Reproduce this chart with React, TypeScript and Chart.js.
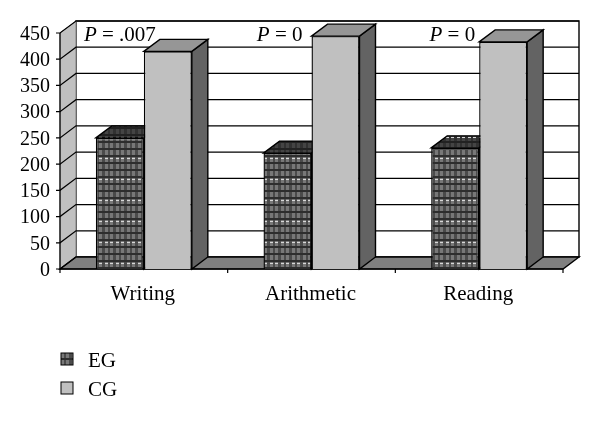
import React, { useEffect, useRef } from "react";
import { Chart, registerables } from "chart.js";

Chart.register(...registerables);

const categories = ["Writing", "Arithmetic", "Reading"];
const egValues = [250, 221, 231];
const cgValues = [415, 444, 433];
const yTicks = [0, 50, 100, 150, 200, 250, 300, 350, 400, 450];
const pLabels = ["P = .007", "P = 0", "P = 0"];
const pOffsets = [12, -9, -4];
const FONT = '"Liberation Serif", serif';
const DX = 16;
const DY = 12;

function makePattern(ctx: CanvasRenderingContext2D, top = false) {
  const c = document.createElement("canvas");
  c.width = 11;
  c.height = 21;
  const g = c.getContext("2d")!;
  g.fillStyle = top ? "#444" : "#787878";
  g.fillRect(0, 0, 11, 21);
  g.fillStyle = "rgba(30,30,30,0.5)";
  g.fillRect(3, 0, 3, 21);
  g.fillRect(9, 0, 2, 21);
  g.fillStyle = top ? "#222" : "#2e2e2e";
  for (let y = 1; y < 21; y += 7) g.fillRect(0, y, 11, 2);
  g.fillStyle = "#d8d8d8";
  g.fillRect(0, 11, 3, 1);
  g.fillRect(6, 11, 3, 1);
  return ctx.createPattern(c, "repeat")!;
}

function poly(ctx: CanvasRenderingContext2D, pts: number[][], fill: any, stroke = "#000", lw = 1.4) {
  ctx.beginPath();
  pts.forEach((p, i) => (i ? ctx.lineTo(p[0], p[1]) : ctx.moveTo(p[0], p[1])));
  ctx.closePath();
  ctx.fillStyle = fill;
  ctx.fill();
  if (stroke) {
    ctx.strokeStyle = stroke;
    ctx.lineWidth = lw;
    ctx.stroke();
  }
}

const box3d = {
  id: "box3d",
  beforeDatasetsDraw(chart: any) {
    const { ctx, chartArea: a, scales } = chart;
    const y = scales.y;
    const y0 = y.getPixelForValue(0);
    const yTop = y.getPixelForValue(450);
    ctx.save();
    poly(ctx, [[a.left + DX, yTop - DY], [a.right + DX, yTop - DY], [a.right + DX, y0 - DY], [a.left + DX, y0 - DY]], "#fff");
    poly(ctx, [[a.left, yTop], [a.left + DX, yTop - DY], [a.left + DX, y0 - DY], [a.left, y0]], "#c0c0c0", "#808080", 1);
    poly(ctx, [[a.left, y0], [a.left + DX, y0 - DY], [a.right + DX, y0 - DY], [a.right, y0]], "#808080");
    ctx.strokeStyle = "#000";
    ctx.lineWidth = 1.2;
    yTicks.forEach((t) => {
      const p = y.getPixelForValue(t);
      ctx.beginPath();
      ctx.moveTo(a.left - 4, p);
      ctx.lineTo(a.left, p);
      ctx.lineTo(a.left + DX, p - DY);
      if (t > 0) ctx.lineTo(a.right + DX, p - DY);
      ctx.stroke();
    });
    ctx.beginPath();
    ctx.moveTo(a.left, yTop);
    ctx.lineTo(a.left, y0);
    ctx.lineTo(a.right, y0);
    ctx.stroke();
    for (let i = 0; i <= categories.length; i++) {
      const x = a.left + ((a.right - a.left) * i) / categories.length;
      ctx.beginPath();
      ctx.moveTo(x, y0);
      ctx.lineTo(x, y0 + 4);
      ctx.stroke();
    }
    const topEG = makePattern(ctx, true);
    chart.getSortedVisibleDatasetMetas().forEach((meta: any, di: number) => {
      meta.data.forEach((bar: any) => {
        const half = bar.width / 2;
        const l = bar.x - half;
        const r = bar.x + half;
        poly(ctx, [[r, bar.y], [r + DX, bar.y - DY], [r + DX, y0 - DY], [r, y0]], "#636363");
        poly(ctx, [[l, bar.y], [l + DX, bar.y - DY], [r + DX, bar.y - DY], [r, bar.y]], di === 0 ? topEG : "#969696");
      });
    });
    ctx.restore();
  },
  afterDatasetsDraw(chart: any) {
    const { ctx, scales } = chart;
    ctx.save();
    ctx.fillStyle = "#000";
    ctx.textBaseline = "middle";
    ctx.textAlign = "left";
    const meta = chart.getDatasetMeta(1);
    pLabels.forEach((label, i) => {
      const barLeft = meta.data[i].x - meta.data[i].width / 2;
      const parts = label.split(" ");
      const py = scales.y.getPixelForValue(450) + 2;
      const rest = " " + parts.slice(1).join(" ");
      ctx.font = `21px ${FONT}`;
      const rw = ctx.measureText(rest).width;
      ctx.font = `italic 21px ${FONT}`;
      const pw = ctx.measureText("P").width;
      const x = barLeft + pOffsets[i] - rw - pw;
      ctx.fillText("P", x, py);
      ctx.font = `21px ${FONT}`;
      ctx.fillText(rest, x + pw, py);
    });
    const legendRows = [
      { y: 359, fill: makePattern(ctx) },
      { y: 388, fill: "#c0c0c0" },
    ];
    legendRows.forEach((row, i) => {
      ctx.fillStyle = row.fill;
      ctx.fillRect(61, row.y - 6, 12, 12);
      ctx.strokeStyle = "#000";
      ctx.lineWidth = 1;
      ctx.strokeRect(61, row.y - 6, 12, 12);
      ctx.fillStyle = "#000";
      ctx.font = `21px ${FONT}`;
      ctx.fillText(chart.data.datasets[i].label, 88, row.y + 2);
    });
    ctx.restore();
  },
};

export default function App() {
  const ref = useRef<HTMLCanvasElement>(null);
  useEffect(() => {
    const ctx = ref.current!.getContext("2d")!;
    const chart = new Chart(ctx, {
      type: "bar",
      data: {
        labels: categories,
        datasets: [
          { label: "EG", data: egValues, backgroundColor: makePattern(ctx), borderColor: "#000", borderWidth: 1.4 },
          { label: "CG", data: cgValues, backgroundColor: "#c0c0c0", borderColor: "#000", borderWidth: 1.4 },
        ],
      },
      options: {
        animation: false,
        responsive: false,
        layout: { padding: { left: 0, right: 37, top: 33, bottom: 0 } },
        datasets: { bar: { categoryPercentage: 0.5725, barPercentage: 1 } },
        plugins: { legend: { display: false }, tooltip: { enabled: false } },
        scales: {
          x: {
            grid: { display: false },
            border: { display: false },
            afterFit: (s: any) => { s.height = 152; },
            ticks: { color: "#000", font: { family: FONT, size: 21 }, padding: 5, maxRotation: 0, labelOffset: -1 },
          },
          y: {
            min: 0,
            max: 450,
            grid: { display: false },
            border: { display: false },
            afterFit: (s: any) => { s.width = 60; },
            afterBuildTicks: (s: any) => { s.ticks = yTicks.map((value) => ({ value })); },
            ticks: { color: "#000", font: { family: FONT, size: 20 }, padding: 2, autoSkip: false, labelOffset: 1.5 },
          },
        },
      } as any,
      plugins: [box3d],
    });
    return () => chart.destroy();
  }, []);
  return (
    <div style={{ position: "fixed", left: 0, top: 0, width: 600, height: 421, background: "#fff" }}>
      <canvas ref={ref} width={600} height={421} style={{ display: "block" }} />
    </div>
  );
}
